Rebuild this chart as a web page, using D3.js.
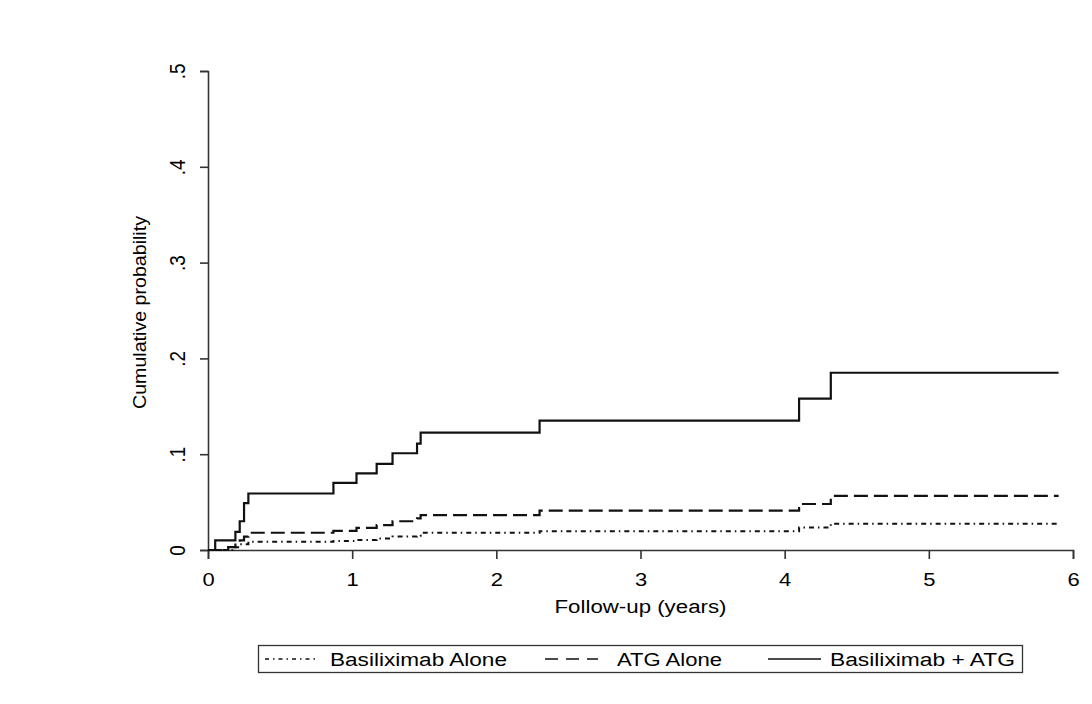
<!DOCTYPE html>
<html>
<head>
<meta charset="utf-8">
<script src="https://cdn.jsdelivr.net/npm/d3@7"></script>
<style>
  body { margin: 0; background: #fff; }
  svg { display: block; font-family: "Liberation Sans", Arial, sans-serif; }
</style>
</head>
<body>
<svg width="1092" height="704"></svg>
<script>
// Cumulative probability step data (years, probability)
const comboTimes = [0, 0.05, 0.19, 0.22, 0.25, 0.28, 0.87, 1.03, 1.17, 1.28, 1.45, 1.475, 2.30, 4.10, 4.32, 5.90];
const comboVals  = [0, 0.010, 0.019, 0.030, 0.049, 0.059, 0.070, 0.080, 0.090, 0.101, 0.111, 0.1225, 0.135, 0.158, 0.185, 0.185];

const atgTimes = [0, 0.14, 0.19, 0.22, 0.25, 0.28, 0.87, 1.03, 1.17, 1.28, 1.45, 1.475, 2.30, 4.10, 4.32, 5.90];
const atgVals  = [0, 0.003, 0.007, 0.010, 0.014, 0.018, 0.020, 0.023, 0.026, 0.030, 0.033, 0.0365, 0.041, 0.048, 0.0565, 0.0565];

const basiTimes = [0, 0.17, 0.22, 0.28, 0.87, 1.03, 1.17, 1.28, 1.45, 1.475, 2.30, 4.10, 4.32, 5.90];
const basiVals  = [0, 0.003, 0.006, 0.0087, 0.0095, 0.0105, 0.012, 0.014, 0.015, 0.018, 0.0195, 0.0235, 0.0275, 0.0275];

const seriesNames = ['Basiliximab Alone', 'ATG Alone', 'Basiliximab + ATG'];
const xTicks = [0, 1, 2, 3, 4, 5, 6];
const yTicks = [0, 0.1, 0.2, 0.3, 0.4, 0.5];
const yTickLabels = ['0', '.1', '.2', '.3', '.4', '.5'];

const svg = d3.select('svg');
const margin = {top: 71, right: 19, bottom: 154, left: 208};
const width = +svg.attr('width') - margin.left - margin.right;
const height = +svg.attr('height') - margin.top - margin.bottom;
const g = svg.append('g').attr('transform', `translate(${margin.left},${margin.top})`);

const x = d3.scaleLinear().domain([0, 6]).range([0, width]);
const y = d3.scaleLinear().domain([0, 0.5]).range([height, 0]);

const axisColor = '#333';
const textColor = '#000';

// Y axis
const yAxis = g.append('g')
  .call(d3.axisLeft(y).tickValues(yTicks).tickSize(8).tickFormat((d, i) => yTickLabels[i]));
yAxis.select('.domain').attr('stroke', axisColor).attr('stroke-width', 1.6);
yAxis.selectAll('.tick line').attr('stroke', axisColor).attr('stroke-width', 1.6);
yAxis.selectAll('.tick text')
  .attr('fill', textColor)
  .attr('font-size', 18)
  .attr('text-anchor', 'middle')
  .attr('x', 0).attr('dy', 0)
  .attr('transform', 'translate(-23,0) rotate(-90) scale(1.05,1.2)')
  .attr('y', 0);

// X axis
const xAxis = g.append('g')
  .attr('transform', `translate(0,${height})`)
  .call(d3.axisBottom(x).tickValues(xTicks).tickSize(9).tickFormat(d3.format('d')));
xAxis.select('.domain').attr('stroke', axisColor).attr('stroke-width', 1.6);
xAxis.selectAll('.tick line').attr('stroke', axisColor).attr('stroke-width', 1.6);
xAxis.selectAll('.tick text')
  .attr('fill', textColor).attr('font-size', 18)
  .attr('y', 0).attr('dy', 0)
  .attr('transform', 'translate(0,36) scale(1.22,1)');

// Axis titles
g.append('text')
  .attr('x', width / 2).attr('y', height + 63)
  .attr('text-anchor', 'middle').attr('font-size', 18).attr('fill', textColor)
  .attr('textLength', 172).attr('lengthAdjust', 'spacingAndGlyphs')
  .text('Follow-up (years)');

g.append('text')
  .attr('transform', `translate(-62,${y(0.25) + 2}) rotate(-90)`)
  .attr('text-anchor', 'middle').attr('font-size', 18).attr('fill', textColor)
  .attr('textLength', 193).attr('lengthAdjust', 'spacingAndGlyphs')
  .text('Cumulative probability');

// Curves
const line = d3.line()
  .x(d => x(d[0]))
  .y(d => y(d[1]))
  .curve(d3.curveStepAfter);

const series = [
  {times: basiTimes, vals: basiVals, dash: '5,4,1.5,4', legendDash: '4,4,1.5,4', width: 2},
  {times: atgTimes, vals: atgVals, dash: '14,6', legendDash: '13,8', width: 2.2},
  {times: comboTimes, vals: comboVals, dash: null, legendDash: null, width: 2.2}
];

g.append('g')
  .selectAll('path')
  .data(series).enter()
  .append('path')
  .attr('fill', 'none')
  .attr('stroke', '#111')
  .attr('stroke-width', d => d.width)
  .attr('stroke-dasharray', d => d.dash)
  .attr('d', d => line(d.times.map((t, i) => [t, d.vals[i]])));

// Legend
const legend = svg.append('g').attr('transform', 'translate(258,645)');
legend.append('rect')
  .attr('x', 0.5).attr('y', 0.5).attr('width', 764).attr('height', 27)
  .attr('fill', '#fff').attr('stroke', '#333').attr('stroke-width', 1.3);

const legendLineX = [7, 287, 510];
const legendTextX = [72, 359, 572];
const legendTextLen = [177, 105, 185];
const legendItems = legend.selectAll('.item')
  .data(series).enter()
  .append('g');
legendItems.append('line')
  .attr('x1', (d, i) => legendLineX[i]).attr('x2', (d, i) => legendLineX[i] + 53)
  .attr('y1', 14).attr('y2', 14)
  .attr('stroke', '#111')
  .attr('stroke-width', 1.6)
  .attr('stroke-dasharray', d => d.legendDash);
legendItems.append('text')
  .attr('x', (d, i) => legendTextX[i]).attr('y', 20.5)
  .attr('font-size', 18).attr('fill', textColor)
  .attr('textLength', (d, i) => legendTextLen[i]).attr('lengthAdjust', 'spacingAndGlyphs')
  .text((d, i) => seriesNames[i]);
</script>
</body>
</html>
